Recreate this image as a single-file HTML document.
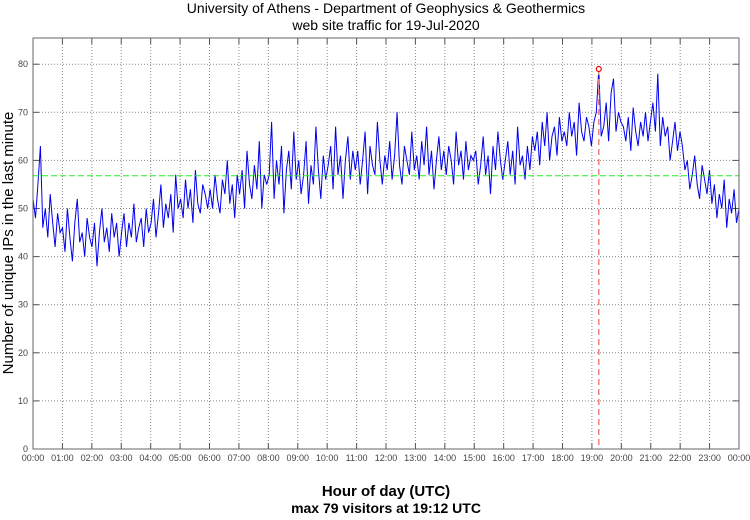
<!DOCTYPE html>
<html><head><meta charset="utf-8"><style>
body{margin:0;background:#fff;width:750px;height:515px;overflow:hidden;font-family:"Liberation Sans",sans-serif}
</style></head><body>
<svg id="c" width="750" height="515" xmlns="http://www.w3.org/2000/svg"></svg>
<script>
const hours=["00:00","01:00","02:00","03:00","04:00","05:00","06:00","07:00","08:00","09:00","10:00","11:00","12:00","13:00","14:00","15:00","16:00","17:00","18:00","19:00","20:00","21:00","22:00","23:00","00:00"];
const yTicks=[0,10,20,30,40,50,60,70,80];
const avgValue=56.8;
const maxLabel="max 79 visitors at 19:12 UTC";
const visitors=[
52,48,55,63,46,50,44,53,47,42,49,45,
46,41,50,44,39,47,52,43,45,40,48,44,
42,47,38,45,50,43,46,41,49,44,47,40,
45,49,42,47,44,51,43,46,48,42,50,45,
47,52,44,49,55,46,51,48,53,45,57,50,
52,48,56,50,54,47,58,51,49,55,53,50,
54,50,57,52,49,56,53,60,51,55,48,57,
53,58,50,62,55,52,59,54,64,50,57,55,
57,68,52,60,55,63,49,58,62,54,66,56,
60,53,57,64,51,59,55,67,58,52,61,56,
59,63,54,67,57,61,52,60,65,56,62,58,
62,55,60,66,53,63,59,57,68,60,55,61,
58,64,56,61,70,59,55,63,60,57,66,58,
61,56,64,59,67,57,62,54,60,65,58,62,
57,63,60,55,66,59,62,56,64,58,61,60,
62,55,59,65,57,61,53,63,58,66,60,56,
60,64,57,62,55,67,59,61,56,63,58,65,
62,66,59,68,63,70,60,65,67,61,69,64,
66,63,70,65,68,61,72,66,64,69,67,63,
68,70,79,65,67,72,64,74,77,66,70,68,
67,64,69,62,71,66,63,68,65,70,64,68,
72,66,78,63,69,65,67,60,64,68,62,66,
63,58,60,54,57,61,55,52,59,56,53,58,
51,55,48,53,50,56,46,52,49,54,47,50];
const L=33,R=739,T=38,B=449,YMAX=85.45;
const sx=h=>L+(R-L)*h/24;
const sy=v=>B-(B-T)*v/YMAX;
const svg=document.getElementById('c');
const NS='http://www.w3.org/2000/svg';
function mk(tag,attrs,txt){const e=document.createElementNS(NS,tag);for(const k in attrs)e.setAttribute(k,attrs[k]);if(txt!==undefined)e.textContent=txt;svg.appendChild(e);return e;}
let e;
e=mk('rect',{x:L,y:T,width:R-L,height:B-T,fill:'#fff'});


hours.forEach((h,i)=>{const x=sx(i);
 if(i>0&&i<24){e=mk('line',{x1:x,x2:x,y1:T,y2:B,stroke:'#888','stroke-dasharray':'1,2','stroke-width':1});
 
 }
 mk('line',{x1:x,x2:x,y1:B,y2:B-6,stroke:'#555'});mk('line',{x1:x,x2:x,y1:T,y2:T+6,stroke:'#555'});
 e=mk('text',{x:x,y:B+12,'font-size':9,fill:'#444','text-anchor':'middle'},h);
 
 
});
yTicks.forEach(v=>{const y=sy(v);
 if(v>0){e=mk('line',{x1:L,x2:R,y1:y,y2:y,stroke:'#888','stroke-dasharray':'1,2','stroke-width':1});
 
 }
 mk('line',{x1:L,x2:L+6,y1:y,y2:y,stroke:'#555'});mk('line',{x1:R,x2:R-6,y1:y,y2:y,stroke:'#555'});
 e=mk('text',{x:L-5,y:y+3,'font-size':9,fill:'#444','text-anchor':'end'},String(v));
 
 
});
const n=visitors.length;
let pts=visitors.map((v,i)=>sx(24*i/(n-1)).toFixed(1)+','+sy(v).toFixed(1)).join(' ');
e=mk('polyline',{points:pts,fill:'none',stroke:'#0000ee','stroke-width':1});


e=mk('line',{x1:L,x2:R,y1:sy(avgValue),y2:sy(avgValue),stroke:'#22ee22','stroke-dasharray':'6,3','stroke-width':1});


let mi=0;visitors.forEach((v,i)=>{if(v>visitors[mi])mi=i;});
const mx=sx(24*mi/(n-1)),my=sy(visitors[mi]);
e=mk('line',{x1:mx,x2:mx,y1:my,y2:B,stroke:'#f08080','stroke-dasharray':'6,4','stroke-width':1.5});


e=mk('circle',{cx:mx,cy:my,r:2.5,fill:'#fff',stroke:'#e00','stroke-width':1.2});


e=mk('rect',{x:L,y:T,width:R-L,height:B-T,fill:'none',stroke:'#666','stroke-width':1});


e=mk('text',{x:386,y:13,'font-size':14,'text-anchor':'middle',fill:'#000'},'University of Athens - Department of Geophysics & Geothermics');


e=mk('text',{x:386,y:30,'font-size':14,'text-anchor':'middle',fill:'#000'},'web site traffic for 19-Jul-2020');


e=mk('text',{x:386,y:496,'font-size':15,'font-weight':'bold','text-anchor':'middle',fill:'#000'},'Hour of day (UTC)');


e=mk('text',{x:386,y:513,'font-size':14,'font-weight':'bold','text-anchor':'middle',fill:'#000'},maxLabel);


e=mk('text',{x:13,y:243,'font-size':15,'text-anchor':'middle',fill:'#000',transform:'rotate(-90 13 243)'},'Number of unique IPs in the last minute');


</script>
</body></html>
